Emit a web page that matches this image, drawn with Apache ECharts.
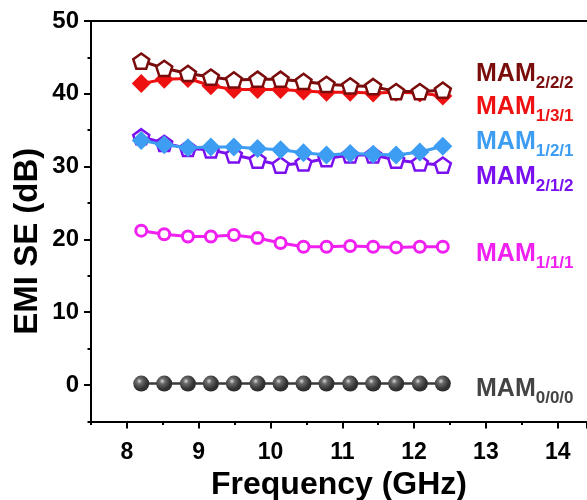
<!DOCTYPE html>
<html>
<head>
<meta charset="utf-8">
<script src="https://cdn.jsdelivr.net/npm/echarts@6/dist/echarts.min.js"></script>
<style>
  html, body { margin: 0; padding: 0; background: #fff; }
  #chart { width: 587px; height: 500px; }
</style>
</head>
<body>
<div id="chart"></div>
<script>
// Measurement frequencies (GHz), X band
const freq = [8.2, 8.52, 8.85, 9.17, 9.49, 9.82, 10.14, 10.46, 10.78, 11.11, 11.43, 11.75, 12.08, 12.4];

// Shielding effectiveness (dB) of each layered sample
const mam222 = [44.5, 43.5, 42.8, 42.3, 41.9, 42.0, 42.0, 41.7, 41.3, 41.1, 41.0, 40.3, 40.3, 40.5];
const mam131 = [41.4, 42.0, 42.1, 41.1, 40.6, 40.6, 40.6, 40.4, 40.2, 40.2, 40.1, 40.2, 40.1, 39.7];
const mam121 = [33.6, 33.0, 32.6, 32.7, 32.7, 32.5, 32.3, 31.9, 31.6, 31.8, 31.7, 31.6, 32.0, 32.8];
const mam212 = [34.1, 33.2, 32.5, 32.3, 31.6, 30.9, 30.2, 30.5, 31.1, 31.6, 31.6, 30.9, 30.5, 30.2];
const mam111 = [21.2, 20.7, 20.4, 20.4, 20.6, 20.2, 19.5, 19.0, 19.0, 19.1, 19.0, 18.9, 19.0, 19.0];
const mam000 = [0.2, 0.2, 0.2, 0.2, 0.2, 0.2, 0.2, 0.2, 0.2, 0.2, 0.2, 0.2, 0.2, 0.2];

// Series names (main text + subscript)
const sampleNames = ['2/2/2', '1/3/1', '1/2/1', '2/1/2', '1/1/1', '0/0/0'];

// Axis tick labels
const xTickLabels = [8, 9, 10, 11, 12, 13, 14];
const yTickLabels = [0, 10, 20, 30, 40, 50];

const FONT = '"Liberation Sans", Arial, Helvetica, sans-serif';
const PENTAGON = 'path://M50,0 L97.55,34.55 L79.39,90.45 L20.61,90.45 L2.45,34.55 Z';

const pairs = (ys) => freq.map((f, i) => [f, ys[i]]);

const chart = echarts.init(document.getElementById('chart'), null, { renderer: 'canvas' });

// Plot geometry: 71.8 px per GHz, 7.28 px per dB; plot runs off the right edge
const PX_X = 71.8, PX_Y = 7.28;
const G_LEFT = 91, G_TOP = 21, G_RIGHT = 587;
const X_MIN = 7.5;
const X_MAX = X_MIN + (G_RIGHT - G_LEFT) / PX_X;

function lineSeries(name, ys, color, symbol, size, hollow, z, extra) {
  return Object.assign({
    name: name,
    type: 'line',
    xAxisIndex: 0,
    yAxisIndex: 0,
    data: pairs(ys),
    symbol: symbol,
    symbolSize: size,
    symbolKeepAspect: true,
    showAllSymbol: true,
    z: z,
    lineStyle: { color: color, width: 3 },
    itemStyle: hollow
      ? { color: '#fff', borderColor: color, borderWidth: 2.5 }
      : { color: color, borderWidth: 0 },
    emphasis: { disabled: true },
    animation: false
  }, extra || {});
}

function tag(sub, color, top) {
  return {
    text: '{m|MAM}{s|' + sub + '}',
    left: 476,
    top: top,
    padding: 0,
    textStyle: {
      rich: {
        m: { fontFamily: FONT, fontWeight: 'bold', fontSize: 25, color: color, lineHeight: 36, verticalAlign: 'middle' },
        s: { fontFamily: FONT, fontWeight: 'bold', fontSize: 17, color: color, lineHeight: 17, verticalAlign: 'bottom' }
      }
    }
  };
}

const option = {
  backgroundColor: '#fff',
  animation: false,
  title: [
    tag(sampleNames[0], '#7a0c0c', 56),
    tag(sampleNames[1], '#ee1111', 89),
    tag(sampleNames[2], '#3d9df2', 124),
    tag(sampleNames[3], '#7a10f0', 159),
    tag(sampleNames[4], '#f020f0', 236),
    tag(sampleNames[5], '#444444', 371)
  ],
  grid: [
    // frame and data area: 7.5 GHz .. right edge, -5..50 dB
    { left: G_LEFT, top: G_TOP, width: G_RIGHT - G_LEFT, height: 55 * PX_Y, containLabel: false, outerBoundsMode: 'none' },
    // major tick grid: 8 GHz .. right edge, 0..50 dB
    { left: G_LEFT + 0.5 * PX_X, top: G_TOP, width: G_RIGHT - G_LEFT - 0.5 * PX_X, height: 50 * PX_Y, containLabel: false, outerBoundsMode: 'none' }
  ],
  xAxis: [
    {
      gridIndex: 0, type: 'value', min: X_MIN, max: X_MAX, interval: 0.5, position: 'bottom',
      axisLine: { show: true, onZero: false, lineStyle: { color: '#000', width: 2 } },
      axisTick: { show: true, length: 3.5, lineStyle: { color: '#000', width: 2 } },
      axisLabel: { show: false },
      splitLine: { show: false },
      name: 'Frequency (GHz)',
      nameLocation: 'middle',
      nameGap: 48,
      nameTextStyle: { fontFamily: FONT, fontWeight: 'bold', fontSize: 32, color: '#000' }
    },
    {
      gridIndex: 0, type: 'value', min: X_MIN, max: X_MAX, position: 'top',
      axisLine: { show: true, onZero: false, lineStyle: { color: '#000', width: 2 } },
      axisTick: { show: false }, axisLabel: { show: false }, splitLine: { show: false }
    },
    {
      gridIndex: 1, type: 'value', min: 8, max: X_MAX, interval: 1, position: 'bottom', offset: 5 * PX_Y,
      axisLine: { show: false, onZero: false },
      axisTick: { show: true, length: 7, lineStyle: { color: '#000', width: 2 } },
      axisLabel: {
        margin: 20, fontFamily: FONT, fontWeight: 'bold', fontSize: 23, color: '#000',
        formatter: (v) => (xTickLabels.indexOf(v) >= 0 ? String(v) : '')
      },
      splitLine: { show: false }
    }
  ],
  yAxis: [
    {
      gridIndex: 0, type: 'value', min: -5, max: 50, interval: 5, position: 'left',
      axisLine: { show: true, onZero: false, lineStyle: { color: '#000', width: 2 } },
      axisTick: { show: true, length: 3.5, lineStyle: { color: '#000', width: 2 } },
      axisLabel: { show: false },
      splitLine: { show: false },
      name: 'EMI SE (dB)',
      nameLocation: 'middle',
      nameGap: 47,
      nameTextStyle: { fontFamily: FONT, fontWeight: 'bold', fontSize: 33, color: '#000', padding: [0, 40, 0, 0] }
    },
    {
      gridIndex: 1, type: 'value', min: 0, max: 50, interval: 10, position: 'left', offset: 0.5 * PX_X,
      axisLine: { show: false, onZero: false },
      axisTick: { show: true, length: 7, lineStyle: { color: '#000', width: 2 } },
      axisLabel: {
        margin: 12, fontFamily: FONT, fontWeight: 'bold', fontSize: 24, color: '#000',
        formatter: (v) => (yTickLabels.indexOf(v) >= 0 ? String(v) : '')
      },
      splitLine: { show: false }
    }
  ],
  series: [
    lineSeries('MAM0/0/0', mam000, '#3a3a3a', 'circle', 16, false, 2, {
      itemStyle: {
        color: new echarts.graphic.RadialGradient(0.38, 0.35, 0.7, [
          { offset: 0, color: '#d8d8d8' },
          { offset: 0.25, color: '#6a6a6a' },
          { offset: 0.7, color: '#333333' },
          { offset: 1, color: '#2a2a2a' }
        ]),
        borderWidth: 0
      },
      lineStyle: { color: '#3a3a3a', width: 2.5 }
    }),
    lineSeries('MAM1/1/1', mam111, '#f020f0', 'circle', 11, true, 3, {
      itemStyle: { color: '#fff', borderColor: '#f020f0', borderWidth: 3 }
    }),
    lineSeries('MAM2/1/2', mam212, '#7a10f0', PENTAGON, 16, true, 4),
    lineSeries('MAM1/2/1', mam121, '#3d9df2', 'diamond', 19, false, 5),
    lineSeries('MAM1/3/1', mam131, '#ee1111', 'diamond', 19, false, 6),
    lineSeries('MAM2/2/2', mam222, '#7a0c0c', PENTAGON, 16, true, 7)
  ]
};

chart.setOption(option);
</script>
</body>
</html>
